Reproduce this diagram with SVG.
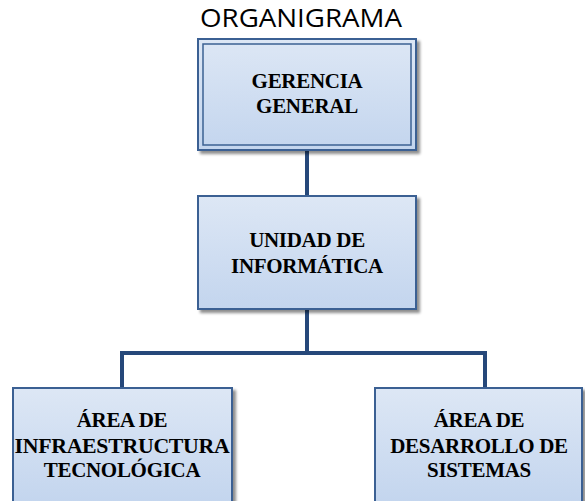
<svg xmlns="http://www.w3.org/2000/svg" width="585" height="501" viewBox="0 0 585 501">
<defs>
<linearGradient id="g" x1="0" y1="0" x2="0" y2="1">
<stop offset="0" stop-color="#dde7f5"/>
<stop offset="1" stop-color="#c3d5ee"/>
</linearGradient>
<filter id="sh" x="-10%" y="-10%" width="130%" height="130%">
<feGaussianBlur in="SourceAlpha" stdDeviation="1.5"/>
<feOffset dx="3" dy="3" result="b"/>
<feComponentTransfer><feFuncA type="linear" slope="0.45"/></feComponentTransfer>
<feMerge><feMergeNode/><feMergeNode in="SourceGraphic"/></feMerge>
</filter>
</defs>
<style>
.box{fill:url(#g);stroke:#3b6193;stroke-width:2}
.in{fill:none;stroke:#3b6193;stroke-width:1.5}
.t{font-family:"Liberation Serif","Times New Roman",serif;font-weight:bold;font-size:21px;fill:#000;text-anchor:middle;letter-spacing:-0.3px}
.title{font-family:"Open Sans","Liberation Sans",sans-serif;font-size:25.5px;fill:#000;text-anchor:middle}
.c{fill:none;stroke:#26487a;stroke-width:4}
</style>
<rect width="585" height="501" fill="#fff"/>
<text class="title" x="301" y="27" textLength="202" lengthAdjust="spacingAndGlyphs">ORGANIGRAMA</text>
<g id="connectors">
<path class="c" d="M307 150V197"/>
<path class="c" d="M307 309V353M122 388V353H485V388"/>
</g>
<g id="gerencia">
<rect class="box" x="198" y="39" width="218" height="111" filter="url(#sh)"/>
<rect class="in" x="203" y="44" width="208" height="101"/>
<text class="t" x="307" y="88">GERENCIA</text>
<text class="t" x="307" y="113">GENERAL</text>
</g>
<g id="unidad">
<rect class="box" x="198" y="196" width="218" height="113" filter="url(#sh)"/>
<text class="t" x="307" y="247">UNIDAD DE</text>
<text class="t" x="307" y="273">INFORMÁTICA</text>
</g>
<g id="infra">
<rect class="box" x="13" y="388" width="219" height="115" filter="url(#sh)"/>
<text class="t" x="122" y="427">ÁREA DE</text>
<text class="t" x="122" y="453" textLength="215" lengthAdjust="spacingAndGlyphs">INFRAESTRUCTURA</text>
<text class="t" x="122" y="477">TECNOLÓGICA</text>
</g>
<g id="desarrollo">
<rect class="box" x="375" y="388" width="207" height="115" filter="url(#sh)"/>
<text class="t" x="479" y="427">ÁREA DE</text>
<text class="t" x="479" y="453">DESARROLLO DE</text>
<text class="t" x="479" y="477">SISTEMAS</text>
</g>
</svg>
